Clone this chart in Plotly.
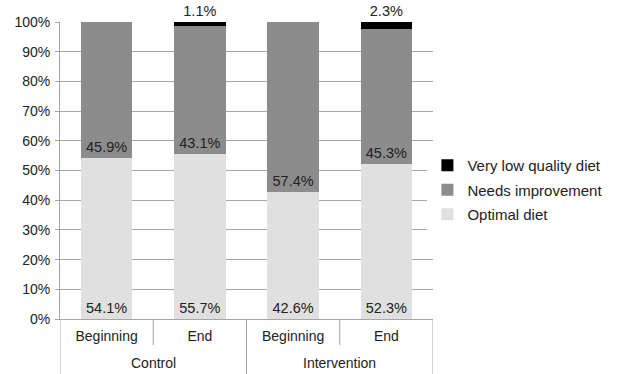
import plotly.graph_objects as go

groups = ["Control", "Control", "Intervention", "Intervention"]
times = ["Beginning", "End", "Beginning", "End"]
optimal = [54.1, 55.7, 42.6, 52.3]
needs = [45.9, 43.1, 57.4, 45.3]
very_low = [0, 1.1, 0, 2.3]

def labels(vals):
    return [f"{v:.1f}%" if v > 0 else "" for v in vals]

cats = [f"{g} {t}" for g, t in zip(groups, times)]
font_fam = "Liberation Sans, Arial, sans-serif"
txt_col = "#222222"
grid_col = "#a6a6a6"

fig = go.Figure()
fig.add_trace(go.Bar(x=cats, y=optimal, name="Optimal diet", legendrank=3, legendgroup="opt",
                     marker=dict(color="#e0e0e0", line_width=0),
                     text=labels(optimal), textposition="inside", insidetextanchor="start",
                     textfont=dict(size=14.5, color=txt_col), hoverinfo="skip"))
fig.add_trace(go.Bar(x=cats, y=needs, name="Needs improvement", legendrank=2, legendgroup="need",
                     marker=dict(color="#8c8c8c", line_width=0),
                     text=labels(needs), textposition="inside", insidetextanchor="start",
                     textfont=dict(size=14.5, color=txt_col), hoverinfo="skip"))
fig.add_trace(go.Bar(x=cats, y=very_low, name="Very low quality diet", legendrank=1, legendgroup="low",
                     marker=dict(color="#000000", line_width=0),
                     text=labels(very_low), textposition="outside",
                     textfont=dict(size=14.5, color=txt_col), cliponaxis=False, hoverinfo="skip"))

# category dividers below the x axis (short between times, long between groups)
plot_h = 374 - 22 - 55
shapes = []
n = len(cats)
for i in range(n + 1):
    xb = i - 0.5
    is_group_edge = i == 0 or i == n or groups[i - 1] != groups[i]
    y1 = -0.2 if is_group_edge else -26 / plot_h
    shapes.append(dict(type="line", xref="x", yref="paper", x0=xb, x1=xb, y0=0, y1=y1,
                       line=dict(color=grid_col, width=1)))

annotations = []
seen = []
for g in groups:
    if g not in seen:
        seen.append(g)
for g in seen:
    idx = [i for i, gg in enumerate(groups) if gg == g]
    annotations.append(dict(text=g, xref="x", yref="paper", x=sum(idx) / len(idx), y=0,
                            yshift=-44, yanchor="middle", showarrow=False,
                            font=dict(size=14, color=txt_col)))

fig.update_layout(
    barmode="stack",
    bargap=0.45,
    width=622, height=374,
    margin=dict(l=60, r=189, t=22, b=55),
    paper_bgcolor="white", plot_bgcolor="white",
    font=dict(family=font_fam, size=14, color=txt_col),
    uniformtext=dict(minsize=14, mode="show"),
    legend=dict(traceorder="grouped", x=0.985, y=0.434, yanchor="middle", xanchor="left",
                font=dict(size=15, color=txt_col), itemwidth=30, tracegroupgap=2),
    showlegend=True,
    shapes=shapes,
    annotations=annotations,
)
fig.update_yaxes(range=[0, 100], dtick=10, ticksuffix="%", showgrid=True, gridcolor=grid_col,
                 gridwidth=1, showline=True, linecolor=grid_col, linewidth=1, zeroline=False,
                 ticks="outside", ticklen=4, tickcolor=grid_col, ticklabelstandoff=2,
                 tickfont=dict(size=14, color=txt_col))
fig.update_xaxes(type="category", tickvals=cats, ticktext=times, showline=True,
                 linecolor=grid_col, linewidth=1, ticks="", ticklabelstandoff=4,
                 range=[-0.5, n - 0.5], tickfont=dict(size=14, color=txt_col))

fig.write_html("out.html")
